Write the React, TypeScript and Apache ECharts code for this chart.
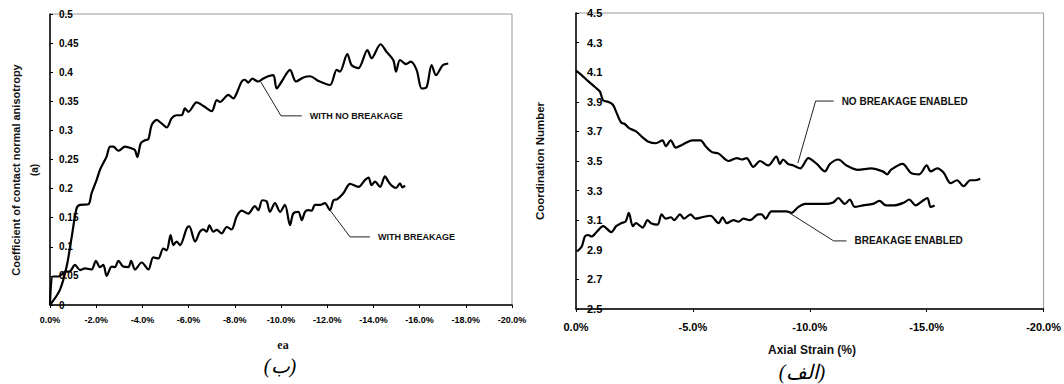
import React, { useEffect, useRef } from "react";
import * as echarts from "echarts";

// ---------- Left chart: coefficient of contact normal anisotropy ----------
const noBreakStrainL = [0, -0.43, -0.72, -0.94, -1.15, -1.3, -1.66, -1.8, -2.02, -2.16, -2.31, -2.45, -2.6, -2.74, -2.96, -3.25, -3.54, -3.68, -3.78, -3.93, -4.11, -4.26, -4.4, -4.62, -4.83, -5.05, -5.27, -5.48, -5.7, -5.84, -5.99, -6.35, -6.64, -7.0, -7.22, -7.36, -7.72, -7.94, -8.08, -8.3, -8.44, -8.58, -8.76, -9.0, -9.23, -9.45, -9.67, -9.81, -10.03, -10.39, -10.65, -10.97, -11.26, -11.62, -12.12, -12.41, -12.55, -12.87, -13.06, -13.35, -13.74, -13.92, -14.31, -14.57, -14.86, -14.98, -15.15, -15.41, -15.61, -15.87, -16.09, -16.3, -16.52, -16.71, -17.0, -17.24];
const noBreakAniso = [0, 0.026, 0.066, 0.117, 0.166, 0.172, 0.173, 0.192, 0.215, 0.232, 0.244, 0.255, 0.272, 0.272, 0.265, 0.272, 0.269, 0.266, 0.254, 0.278, 0.283, 0.285, 0.309, 0.318, 0.312, 0.305, 0.321, 0.326, 0.326, 0.338, 0.332, 0.348, 0.342, 0.333, 0.352, 0.349, 0.361, 0.355, 0.364, 0.384, 0.387, 0.382, 0.389, 0.384, 0.389, 0.393, 0.395, 0.372, 0.384, 0.404, 0.384, 0.391, 0.393, 0.385, 0.378, 0.404, 0.401, 0.431, 0.412, 0.407, 0.438, 0.424, 0.448, 0.435, 0.421, 0.401, 0.421, 0.414, 0.418, 0.404, 0.372, 0.374, 0.412, 0.395, 0.412, 0.415];

const breakStrainL = [0, -0.12, -0.36, -0.65, -0.87, -1.08, -1.3, -1.52, -1.8, -1.99, -2.16, -2.31, -2.45, -2.67, -2.81, -2.96, -3.17, -3.39, -3.51, -3.68, -3.97, -4.26, -4.47, -4.69, -4.9, -5.05, -5.22, -5.34, -5.48, -5.63, -5.92, -6.03, -6.28, -6.49, -6.64, -6.78, -6.9, -7.07, -7.22, -7.43, -7.65, -7.86, -8.08, -8.3, -8.58, -8.87, -9.02, -9.19, -9.38, -9.52, -9.74, -9.96, -10.17, -10.39, -10.53, -10.75, -10.9, -11.04, -11.18, -11.33, -11.47, -11.69, -11.9, -12.12, -12.27, -12.44, -12.7, -12.99, -13.35, -13.64, -13.79, -13.92, -14.07, -14.29, -14.5, -14.65, -14.79, -14.98, -15.15, -15.26, -15.37];
const breakAniso = [0, 0.049, 0.049, 0.057, 0.058, 0.069, 0.06, 0.063, 0.061, 0.076, 0.065, 0.069, 0.05, 0.066, 0.065, 0.076, 0.066, 0.065, 0.076, 0.061, 0.073, 0.061, 0.082, 0.08, 0.097, 0.094, 0.12, 0.103, 0.109, 0.103, 0.132, 0.135, 0.109, 0.126, 0.13, 0.126, 0.137, 0.126, 0.129, 0.123, 0.134, 0.13, 0.152, 0.162, 0.157, 0.17, 0.163, 0.18, 0.178, 0.16, 0.175, 0.16, 0.172, 0.137, 0.157, 0.16, 0.146, 0.16, 0.163, 0.162, 0.172, 0.172, 0.175, 0.163, 0.18, 0.182, 0.192, 0.208, 0.203, 0.215, 0.219, 0.206, 0.212, 0.203, 0.221, 0.212, 0.205, 0.201, 0.209, 0.202, 0.205];

// ---------- Right chart: coordination number ----------
const noBreakStrainR = [0, -0.24, -0.52, -0.81, -1.02, -1.16, -1.37, -1.58, -1.75, -1.93, -2.08, -2.29, -2.57, -2.85, -3.1, -3.42, -3.7, -3.84, -4.05, -4.27, -4.55, -4.97, -5.33, -5.54, -5.82, -6.1, -6.53, -6.88, -7.09, -7.3, -7.58, -7.87, -8.22, -8.57, -8.72, -8.86, -9.07, -9.3, -9.59, -9.94, -10.3, -10.65, -10.86, -11.22, -11.57, -12.06, -12.63, -13.12, -13.31, -13.47, -13.97, -14.32, -14.68, -15.0, -15.17, -15.45, -15.73, -16.02, -16.3, -16.58, -16.86, -17.08, -17.29];
const noBreakCoord = [4.11, 4.08, 4.04, 4.0, 3.97, 3.91, 3.9, 3.88, 3.82, 3.76, 3.75, 3.72, 3.7, 3.66, 3.63, 3.62, 3.64, 3.6, 3.64, 3.59, 3.61, 3.64, 3.64, 3.6, 3.56, 3.55, 3.5, 3.52, 3.51, 3.52, 3.46, 3.5, 3.47, 3.53, 3.48, 3.51, 3.48, 3.47, 3.45, 3.52, 3.48, 3.43, 3.48, 3.51, 3.47, 3.44, 3.45, 3.43, 3.41, 3.44, 3.48, 3.42, 3.41, 3.47, 3.43, 3.45, 3.42, 3.35, 3.37, 3.33, 3.37, 3.37, 3.38];

const breakStrainR = [-0.05, -0.24, -0.38, -0.52, -0.66, -0.88, -1.16, -1.51, -1.72, -1.93, -2.12, -2.26, -2.43, -2.57, -2.85, -3.06, -3.21, -3.49, -3.66, -3.84, -4.06, -4.2, -4.45, -4.62, -4.9, -5.11, -5.39, -5.75, -6.1, -6.27, -6.45, -6.74, -6.95, -7.16, -7.44, -7.8, -7.94, -8.11, -8.36, -8.79, -9.0, -9.21, -9.52, -9.8, -10.23, -10.65, -11.0, -11.22, -11.5, -11.71, -11.92, -12.28, -12.7, -12.98, -13.26, -13.61, -14.04, -14.25, -14.53, -14.82, -15.03, -15.17, -15.34];
const breakCoord = [2.89, 2.92, 2.99, 3.0, 2.99, 3.02, 3.06, 3.02, 3.06, 3.08, 3.09, 3.15, 3.06, 3.08, 3.05, 3.1, 3.08, 3.07, 3.14, 3.11, 3.12, 3.1, 3.14, 3.11, 3.14, 3.11, 3.12, 3.13, 3.08, 3.12, 3.08, 3.1, 3.09, 3.11, 3.1, 3.14, 3.14, 3.11, 3.16, 3.16, 3.16, 3.15, 3.19, 3.21, 3.21, 3.21, 3.22, 3.25, 3.21, 3.24, 3.19, 3.2, 3.21, 3.23, 3.2, 3.2, 3.22, 3.24, 3.2, 3.23, 3.25, 3.19, 3.2];

// ---------- Axis ranges / labels ----------
const leftXTicks = { min: -20, max: 0, interval: 2 };
const leftYTicks = { min: 0, max: 0.5, interval: 0.05 };
const rightXTicks = { min: -20, max: 0, interval: 5 };
const rightYTicks = { min: 2.5, max: 4.5, interval: 0.2 };

// ---------- Annotations (data coordinates of leader lines) ----------
const leftAnnotations = [
  { text: "WITH NO BREAKAGE", points: [[-9.13, 0.383], [-10.0, 0.325], [-10.9, 0.325]] },
  { text: "WITH BREAKAGE", points: [[-12.12, 0.163], [-12.99, 0.117], [-13.85, 0.117]] },
];
const rightAnnotations = [
  { text: "NO BREAKAGE ENABLED", points: [[-9.49, 3.486], [-10.25, 3.905], [-11.02, 3.905]] },
  { text: "BREAKAGE ENABLED", points: [[-9.07, 3.155], [-11.02, 2.96], [-11.57, 2.96]] },
];

const pairs = (xs: number[], ys: number[]) => xs.map((x, i) => [x, ys[i]]);

const FONT = "'Liberation Sans', Arial, sans-serif";
const TXT = "#000";

export default function App() {
  const ref = useRef<HTMLDivElement>(null);
  useEffect(() => {
    if (!ref.current) return;
    const chart = echarts.init(ref.current, null, { renderer: "svg" });

    const xAxisBase = (gi: number, t: any, fs: number, margin: number) => ({
      gridIndex: gi,
      type: "value",
      min: t.min,
      max: t.max,
      interval: t.interval,
      inverse: true,
      axisLine: { onZero: false, lineStyle: { color: "#000", width: 1.5 } },
      axisTick: { show: true, length: 3, lineStyle: { color: "#000", width: 1 } },
      axisLabel: {
        formatter: (v: number) => v.toFixed(1) + "%",
        fontSize: fs,
        fontWeight: 700,
        fontFamily: FONT,
        color: TXT,
        margin,
        showMinLabel: true,
        showMaxLabel: true,
      },
      splitLine: { show: false },
    });
    const yAxisBase = (gi: number, t: any, fs: number, margin: number, fmt: (v: number) => string) => ({
      gridIndex: gi,
      type: "value",
      min: t.min,
      max: t.max,
      interval: t.interval,
      axisLine: { show: true, onZero: false, lineStyle: { color: "#000", width: 1.5 } },
      axisTick: { show: true, inside: true, length: 3, lineStyle: { color: "#000", width: 1 } },
      axisLabel: {
        inside: true,
        formatter: fmt,
        fontSize: fs,
        fontWeight: 700,
        fontFamily: FONT,
        color: TXT,
        margin,
        showMinLabel: true,
        showMaxLabel: true,
      },
      splitLine: { show: false },
    });

    const lineSeries = (xi: number, data: number[][]) => ({
      type: "line",
      xAxisIndex: xi,
      yAxisIndex: xi,
      data,
      showSymbol: false,
      smooth: 0.3,
      lineStyle: { color: "#000", width: 2.2 },
      z: 3,
    });

    chart.setOption({
      animation: false,
      backgroundColor: "#fff",
      grid: [
        { left: 50, top: 14, width: 462, height: 291, show: true, borderColor: "#9a9a9a", borderWidth: 1, backgroundColor: "transparent" },
        { left: 576, top: 13, width: 472, height: 296, show: true, borderColor: "#9a9a9a", borderWidth: 1, backgroundColor: "transparent" },
      ],
      xAxis: [xAxisBase(0, leftXTicks, 9, 10), xAxisBase(1, rightXTicks, 11, 12)],
      yAxis: [
        yAxisBase(0, leftYTicks, 10, 9, (v: number) => String(+v.toFixed(2))),
        yAxisBase(1, rightYTicks, 11, 11, (v: number) => v.toFixed(1)),
      ],
      series: [
        lineSeries(0, pairs(noBreakStrainL, noBreakAniso)),
        lineSeries(0, pairs(breakStrainL, breakAniso)),
        lineSeries(1, pairs(noBreakStrainR, noBreakCoord)),
        lineSeries(1, pairs(breakStrainR, breakCoord)),
      ],
    });

    const graphics: any[] = [];
    const addAnnots = (gi: number, annots: any[], fs: number) => {
      annots.forEach((a) => {
        const pts = a.points.map((p: number[]) => chart.convertToPixel({ gridIndex: gi }, p) as number[]);
        graphics.push({
          type: "polyline",
          shape: { points: pts },
          style: { stroke: "#222", lineWidth: 1, fill: null },
          z: 10,
        });
        const last = pts[pts.length - 1];
        graphics.push({
          type: "text",
          x: last[0] + 8,
          y: last[1],
          style: { text: a.text, font: `bold ${fs}px ${FONT}`, fill: "#111", align: "left", verticalAlign: "middle" },
          z: 10,
        });
      });
    };
    addAnnots(0, leftAnnotations, 9);
    addAnnots(1, rightAnnotations, 10);

    graphics.push(
      {
        type: "text", x: 16, y: 170, rotation: Math.PI / 2,
        style: { text: "Coefficient of contact normal anisotropy", font: `bold 11px ${FONT}`, fill: "#111", align: "center", verticalAlign: "middle" },
      },
      {
        type: "text", x: 34, y: 170, rotation: Math.PI / 2,
        style: { text: "(a)", font: `bold 10px ${FONT}`, fill: "#111", align: "center", verticalAlign: "middle" },
      },
      {
        type: "text", x: 283, y: 345,
        style: { text: "ea", font: `bold 12px 'Liberation Serif', serif`, fill: "#111", align: "center", verticalAlign: "middle" },
      },
      {
        type: "text", x: 280, y: 366,
        style: { text: "(ب)", font: `italic 20px 'Liberation Serif', 'DejaVu Sans', serif`, fill: "#000", align: "center", verticalAlign: "middle" },
      },
      {
        type: "text", x: 540, y: 161, rotation: Math.PI / 2,
        style: { text: "Coordination Number", font: `bold 11.5px ${FONT}`, fill: "#111", align: "center", verticalAlign: "middle" },
      },
      {
        type: "text", x: 812, y: 350,
        style: { text: "Axial Strain (%)", font: `bold 12px ${FONT}`, fill: "#111", align: "center", verticalAlign: "middle" },
      },
      {
        type: "text", x: 802, y: 372,
        style: { text: "(الف)", font: `italic 20px 'Liberation Serif', 'DejaVu Sans', serif`, fill: "#000", align: "center", verticalAlign: "middle" },
      }
    );

    chart.setOption({ graphic: graphics });

    return () => chart.dispose();
  }, []);

  return (
    <div
      ref={ref}
      style={{ position: "absolute", left: 0, top: 0, width: 1064, height: 384, background: "#fff" }}
    />
  );
}
